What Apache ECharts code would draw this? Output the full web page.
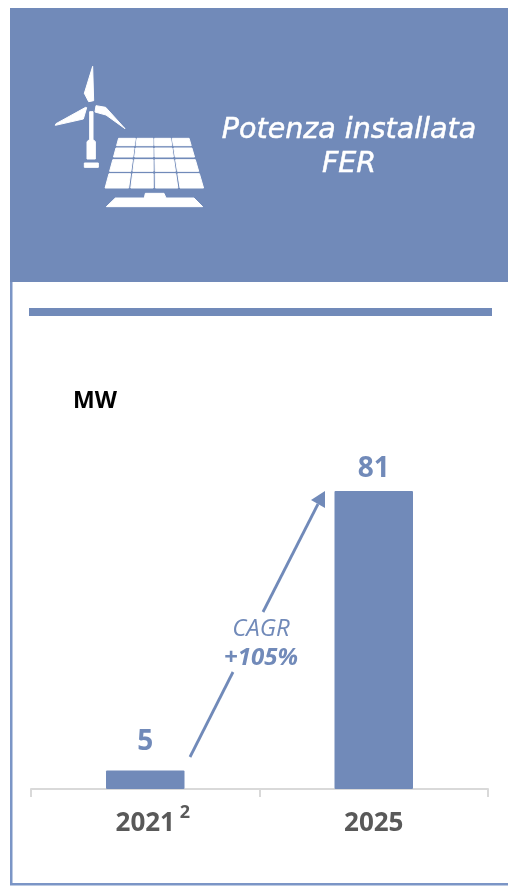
<!DOCTYPE html>
<html><head><meta charset="utf-8">
<style>html,body{margin:0;padding:0;background:#fff}#c{width:508px;height:886px}</style>
<script src="https://cdn.jsdelivr.net/npm/echarts@6/dist/echarts.min.js"></script>
</head><body><div id="c"></div>
<script>
const categories = ['2021', '2025'];
const values = [5, 81];
const labelGaps = [15, 8];
const titleLines = ['Potenza installata', 'FER'];
const unitLabel = 'MW';
const cagrLines = ['CAGR', '+105%'];
const footnote = '2';

const BLUE = '#718ab9';
const FONT = '"Open Sans", sans-serif';
const chart = echarts.init(document.getElementById('c'), null, {renderer: 'canvas'});

const white = {fill: '#fff', stroke: '#fff', lineWidth: 1, lineJoin: 'round'};
const z = (x, y) => [40 + x / 3, 50 + y / 3];
const poly = pts => ({type: 'polygon', z: 5, shape: {points: pts.map(p => z(p[0], p[1]))}, style: white});

function panelCells() {
  const rows = [[265, 287], [294, 321], [329, 364], [371, 414]];
  const yTop = 264, yBot = 415;
  const edge = (y, t) => {
    const k = (y - yTop) / (yBot - yTop);
    const l = 236 + (195 - 236) * k, r = 447 + (491 - 447) * k;
    return l + (r - l) * t;
  };
  const out = [];
  rows.forEach(([a, b]) => {
    for (let c = 0; c < 4; c++) {
      const t0 = c / 4 + (c ? 0.011 : 0), t1 = (c + 1) / 4 - (c < 3 ? 0.011 : 0);
      out.push(poly([[edge(a, t0), a], [edge(a, t1), a], [edge(b, t1), b], [edge(b, t0), b]]));
    }
  });
  return out;
}

const icon = [
  poly([[158, 49], [133, 130], [146, 155], [161, 152]]),
  poly([[46, 226], [130, 207], [140, 173], [137, 172], [48, 221]]),
  poly([[255, 236], [197, 172], [168, 167], [165, 186], [198, 195]]),
  poly([[149, 185], [159, 185], [159, 268], [166, 275], [166, 327], [141, 327], [141, 275], [149, 268]]),
  poly([[133, 339], [175, 339], [175, 352], [133, 352]]),
  poly([[199, 470], [226, 444], [313, 444], [316, 430], [372, 430], [378, 444], [462, 444], [488, 470]]),
  {type: 'circle', z: 6, shape: {cx: z(153, 170)[0], cy: z(153, 170)[1], r: 2}, style: {fill: BLUE}}
].concat(panelCells());

const txt = (x, y, text, style) => ({type: 'text', z: 8, x, y, style: Object.assign({text, align: 'center', verticalAlign: 'middle'}, style)});
const titleStyle = {fill: '#fff', stroke: '#fff', lineWidth: 0.5, font: 'italic 500 28.5px "DejaVu Sans", sans-serif'};

const frame = [
  {type: 'rect', z: 1, shape: {x: 10, y: 8, width: 498, height: 274}, style: {fill: BLUE}},
  {type: 'rect', z: 1, shape: {x: 10, y: 282, width: 2.5, height: 603}, style: {fill: '#7b95c6'}},
  {type: 'rect', z: 1, shape: {x: 10, y: 883, width: 498, height: 2.5}, style: {fill: '#7b95c6'}},
  {type: 'rect', z: 1, shape: {x: 29, y: 308, width: 463, height: 8}, style: {fill: BLUE}}
];

const annotations = [
  txt(349, 131, titleLines[0], titleStyle),
  txt(349, 165, titleLines[1], titleStyle),
  txt(95, 401, unitLabel, {fill: '#000', font: 'bold 23px ' + FONT}),
  txt(261, 629, cagrLines[0], {fill: BLUE, font: 'italic 24px ' + FONT}),
  txt(261, 658, cagrLines[1], {fill: BLUE, font: 'italic bold 24px ' + FONT}),
  txt(185, 813, footnote, {fill: '#595959', font: 'bold 18px ' + FONT}),
  {type: 'line', z: 7, shape: {x1: 190, y1: 757, x2: 233, y2: 672}, style: {stroke: BLUE, lineWidth: 2.8}},
  {type: 'line', z: 7, shape: {x1: 263, y1: 612, x2: 318, y2: 504}, style: {stroke: BLUE, lineWidth: 2.8}},
  {type: 'polygon', z: 7, shape: {points: [[325, 491], [311, 500], [325, 508]]}, style: {fill: BLUE}}
];

chart.setOption({
  animation: false,
  backgroundColor: '#fff',
  grid: {left: 31, right: 20, top: 491, bottom: 97},
  xAxis: {
    type: 'category', data: categories,
    axisLine: {show: true, lineStyle: {color: '#d9d9d9', width: 2}},
    axisTick: {show: true, alignWithLabel: false, length: 8, lineStyle: {color: '#d9d9d9', width: 2}},
    axisLabel: {color: '#595959', fontFamily: FONT, fontWeight: 'bold', fontSize: 26, margin: 22}
  },
  yAxis: {type: 'value', min: 0, max: 81, show: false},
  series: [{
    type: 'bar', barWidth: 78.5, z: 1,
    data: values.map((v, i) => ({value: v, label: {distance: labelGaps[i]}})),
    itemStyle: {color: BLUE, borderRadius: 1},
    label: {show: true, position: 'top', color: BLUE, fontFamily: FONT, fontWeight: 'bold', fontSize: 28}
  }],
  graphic: {elements: frame.concat(icon, annotations)}
});
</script></body></html>
